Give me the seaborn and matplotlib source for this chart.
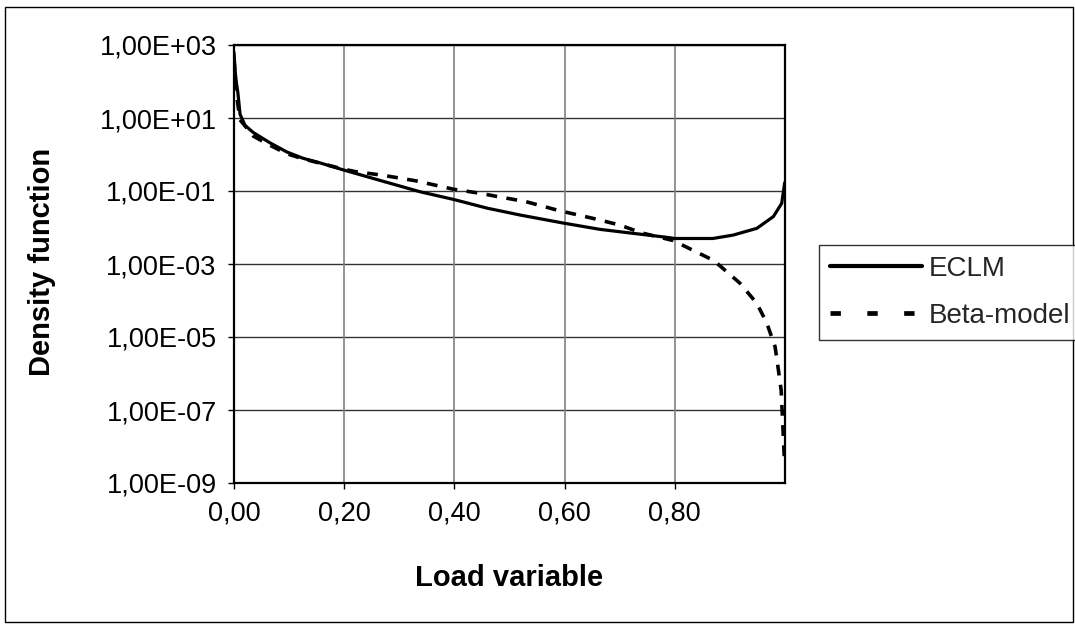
import numpy as np
import pandas as pd
import seaborn as sns
import matplotlib
matplotlib.use("Agg")
import matplotlib.pyplot as plt
from matplotlib.lines import Line2D
from matplotlib.patches import Rectangle
from matplotlib.ticker import FixedLocator, FixedFormatter, NullLocator

# ---- data ----
eclm_x = [0.0, 0.002, 0.004, 0.007, 0.011, 0.02, 0.035, 0.065, 0.096, 0.125,
          0.156, 0.198, 0.265, 0.338, 0.398, 0.459, 0.519, 0.598, 0.664, 0.725,
          0.785, 0.80, 0.869, 0.906, 0.949, 0.979, 0.994, 0.9995]
eclm_y = [630, 200, 100, 50, 12.6, 6.3, 4.0, 2.1, 1.17, 0.79,
          0.59, 0.38, 0.195, 0.095, 0.059, 0.034, 0.022, 0.0132, 0.0089, 0.0069,
          0.0054, 0.0050, 0.0050, 0.0062, 0.0095, 0.020, 0.046, 0.17]

beta_x = [0.0, 0.004, 0.011, 0.035, 0.065, 0.096, 0.125, 0.156, 0.198, 0.22,
          0.27, 0.33, 0.398, 0.446, 0.477, 0.53, 0.59, 0.65, 0.70, 0.74,
          0.797, 0.846, 0.87, 0.882, 0.918, 0.949, 0.967, 0.982, 0.988, 0.993,
          0.995, 0.997, 0.999]
beta_y = [400, 50, 8.9, 3.2, 1.8, 1.05, 0.76, 0.58, 0.40, 0.34,
          0.27, 0.19, 0.112, 0.087, 0.071, 0.051, 0.029, 0.018, 0.0117, 0.0071,
          0.0044, 0.0019, 0.00126, 0.00089, 0.00030, 8.3e-5, 2.4e-5, 5.4e-6, 1.26e-6, 3.5e-7,
          8.3e-8, 1.8e-8, 4.0e-9]

series_names = ["ECLM", "Beta-model"]
x_ticks = [0.0, 0.2, 0.4, 0.6, 0.8]
x_tick_labels = ["0,00", "0,20", "0,40", "0,60", "0,80"]
y_ticks = [1e-9, 1e-7, 1e-5, 1e-3, 1e-1, 1e1, 1e3]
y_tick_labels = ["1,00E-09", "1,00E-07", "1,00E-05", "1,00E-03", "1,00E-01", "1,00E+01", "1,00E+03"]

sns.set_theme(style="white")
plt.rcParams['font.family'] = ['Liberation Sans', 'DejaVu Sans']

W, H = 1075, 628
fig = plt.figure(figsize=(W / 100, H / 100), dpi=100)
fig.patch.set_facecolor("white")

# outer frame of the chart
fig.patches.append(Rectangle((5 / W, 6 / H), (1073 - 5) / W, (622 - 7) / H,
                             transform=fig.transFigure, fill=False,
                             edgecolor="black", linewidth=1.0, zorder=0))

left, right, top, bottom = 234, 785, 45, 483
ax = fig.add_axes([left / W, 1 - bottom / H, (right - left) / W, (bottom - top) / H])

df_e = pd.DataFrame({"x": eclm_x, "y": eclm_y})
df_b = pd.DataFrame({"x": beta_x, "y": beta_y})
sns.lineplot(data=df_e, x="x", y="y", ax=ax, color="black", linewidth=2.3,
             estimator=None, sort=False, zorder=3)
sns.lineplot(data=df_b, x="x", y="y", ax=ax, color="black", linewidth=2.6,
             estimator=None, sort=False, zorder=3, dashes=False)
ax.lines[-1].set_linestyle((0, (3.0, 2.6)))

ax.set_yscale("log")
ax.set_xlim(0, 1.0)
ax.set_ylim(1e-9, 1e3)
ax.xaxis.set_major_locator(FixedLocator(x_ticks))
ax.xaxis.set_major_formatter(FixedFormatter(x_tick_labels))
ax.yaxis.set_major_locator(FixedLocator(y_ticks))
ax.yaxis.set_major_formatter(FixedFormatter(y_tick_labels))
ax.yaxis.set_minor_locator(NullLocator())
ax.xaxis.set_minor_locator(NullLocator())

ax.tick_params(axis="both", which="major", direction="out", length=4.5, width=1.0,
               color="black", labelsize=19.5, labelcolor="black", pad=8, left=True, bottom=True)
ax.grid(False)
for yv in y_ticks:
    ax.axhline(yv, color="#333333", linewidth=1.0, zorder=1)
for xv in x_ticks[1:]:
    ax.axvline(xv, color="#808080", linewidth=1.2, zorder=1)

for sp in ax.spines.values():
    sp.set_color("black")
    sp.set_linewidth(1.6)
    sp.set_visible(True)

ax.set_xlabel("Load variable", fontsize=21, fontweight="bold", color="black")
ax.xaxis.set_label_coords(0.499, (bottom - 578) / (bottom - top))
ax.xaxis.label.set_va("center")
ax.set_ylabel("Density function", fontsize=21, fontweight="bold", color="black")
ax.yaxis.set_label_coords((42 - left) / (right - left), (bottom - 262) / (bottom - top))
ax.yaxis.label.set_va("center")

handles = [Line2D([], [], color="black", linewidth=3.0),
           Line2D([], [], color="black", linewidth=3.4, linestyle=(0, (2.2, 5.6)))]
leg = fig.legend(handles, series_names, loc="upper left",
                 bbox_to_anchor=(819 / W, 1 - 245 / H), bbox_transform=fig.transFigure,
                 frameon=True, fancybox=False, shadow=False, fontsize=20,
                 handlelength=3.3, handletextpad=0.25, borderpad=0.4,
                 labelspacing=0.75, borderaxespad=0)
leg.get_frame().set_edgecolor("black")
leg.get_frame().set_linewidth(1.0)
leg.get_frame().set_facecolor("white")

fig.savefig("out.png", dpi=100)
